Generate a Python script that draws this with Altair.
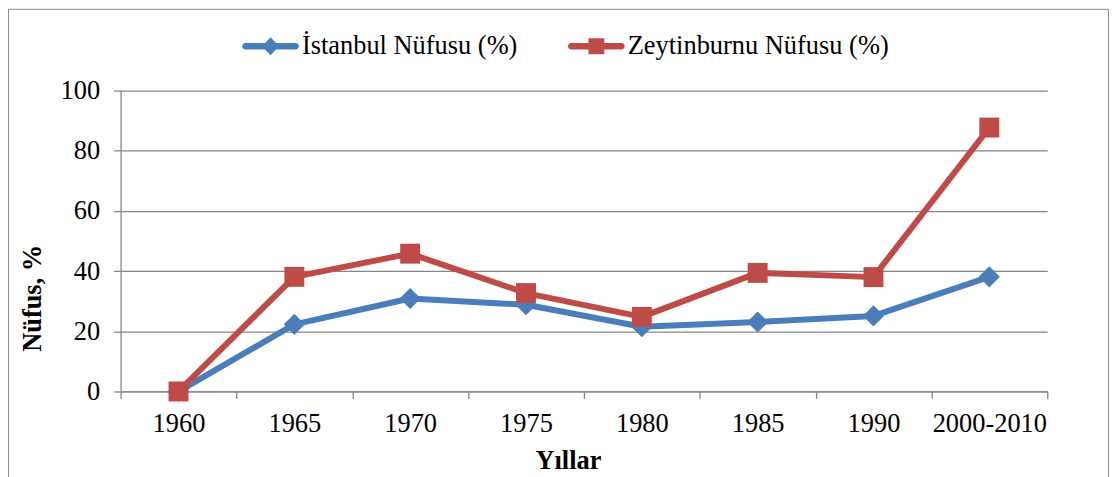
import altair as alt
import pandas as pd

categories = ["1960", "1965", "1970", "1975", "1980", "1985", "1990", "2000-2010"]
istanbul = [0, 22.3, 30.9, 28.8, 21.5, 23.1, 25.1, 38.1]
zeytinburnu = [0, 38.1, 45.8, 32.7, 24.8, 39.4, 38.0, 87.7]
series_names = ["İstanbul Nüfusu (%)", "Zeytinburnu Nüfusu (%)"]
y_ticks = [0, 20, 40, 60, 80, 100]

rows = []
for s, vals in zip(series_names, [istanbul, zeytinburnu]):
    for i, (c, v) in enumerate(zip(categories, vals)):
        rows.append({"idx": i, "year": c, "series": s, "value": v})
df = pd.DataFrame(rows)

n = len(categories)
W, H = 930, 302
band = W / n
edges = [i - 0.5 for i in range(n + 1)]
cat_js = "[" + ",".join("'%s'" % c for c in categories) + "]"
label_expr = f"datum.value < {n - 1} ? {cat_js}[round(datum.value + 0.5)] : ''"

GRID = "#868686"
FONT = "Liberation Serif"
FS = 26.5
colors = ["#4A7EBB", "#BE4B48"]

x_enc = alt.X(
    "idx:Q",
    scale=alt.Scale(domain=[-0.5, n - 0.5], nice=False, zero=False),
    axis=alt.Axis(
        values=edges, labelExpr=label_expr, labelOffset=band / 2, labelFlush=False,
        labelOverlap=False, grid=False, tickSize=7, tickColor=GRID, tickWidth=1.3,
        domainColor=GRID, domainWidth=1.3, labelPadding=12, labelFont=FONT,
        labelFontSize=FS, labelColor="black", title="Yıllar", titleFont=FONT,
        titleFontSize=FS, titleFontWeight="bold", titleColor="black",
        titleX=449, titleY=77, titleBaseline="alphabetic", titleAlign="center",
    ),
)
y_enc = alt.Y(
    "value:Q",
    scale=alt.Scale(domain=[0, 100], nice=False),
    axis=alt.Axis(
        values=y_ticks, grid=True, gridColor=GRID, gridWidth=1.3, tickSize=7,
        tickColor=GRID, tickWidth=1.3, domainColor=GRID, domainWidth=1.3,
        labelPadding=14, labelFont=FONT, labelFontSize=FS, labelColor="black",
        title="Nüfus, %", titleFont=FONT, titleFontSize=FS, titleFontWeight="bold",
        titleColor="black", titleX=-88, titleY=208, titleAngle=270,
        titleBaseline="middle", titleAlign="center",
    ),
)
color_scale = alt.Scale(domain=series_names, range=colors)

ist_path = ("M-0.884,-0.116 L0.884,-0.116 A0.116,0.116 0 0 1 0.884,0.116 "
            "L-0.884,0.116 A0.116,0.116 0 0 1 -0.884,-0.116 Z "
            "M0,-0.32 L0.3,0 L0,0.32 L-0.3,0 Z")
zey_path = ("M-0.884,-0.116 L0.884,-0.116 A0.116,0.116 0 0 1 0.884,0.116 "
            "L-0.884,0.116 A0.116,0.116 0 0 1 -0.884,-0.116 Z "
            "M-0.28,-0.28 L0.28,-0.28 L0.28,0.28 L-0.28,0.28 Z")

legend_kw = dict(
    title=None, orient="none", legendX=122, legendY=-73, direction="horizontal",
    columnPadding=50, labelOffset=3, labelFont=FONT, labelFontSize=FS,
    labelColor="black", labelLimit=400, symbolSize=3249, symbolOpacity=1,
    symbolStrokeWidth=0, padding=0,
)

frame = alt.Chart(alt.Data(values=[{"f": 1}])).mark_rect(
    filled=False, stroke="#8c8c8c", strokeWidth=1
).encode(
    x=alt.value(-112.5), x2=alt.value(991.5), y=alt.value(-81.5), y2=alt.value(H + 150)
)

leg = alt.Chart(df).mark_point(filled=True, opacity=0, size=3249).encode(
    x=x_enc, y=y_enc,
    color=alt.Color("series:N", scale=color_scale, legend=alt.Legend(**legend_kw)),
    shape=alt.Shape("series:N", scale=alt.Scale(domain=series_names, range=[ist_path, zey_path]),
                    legend=alt.Legend(**legend_kw)),
)

layers = [frame, leg]
shapes = [("diamond", 450), ("square", 400)]
for name, col, (shp, sz) in zip(series_names, colors, shapes):
    base = alt.Chart(df).transform_filter(alt.datum.series == name)
    layers.append(
        base.mark_line(color=col, strokeWidth=6, strokeJoin="round", strokeCap="round")
        .encode(x=x_enc, y=y_enc)
    )
    layers.append(
        base.mark_point(shape=shp, filled=True, size=sz, opacity=1, color=col)
        .encode(x=x_enc, y=y_enc)
    )

chart = alt.layer(*layers).properties(
    width=W, height=H,
    autosize=alt.AutoSizeParams(type="none"),
    padding={"left": 113, "top": 82, "right": 62, "bottom": 86},
).configure_view(stroke="transparent")

chart.save("out.html", embed_options={"renderer": "svg", "actions": False})
